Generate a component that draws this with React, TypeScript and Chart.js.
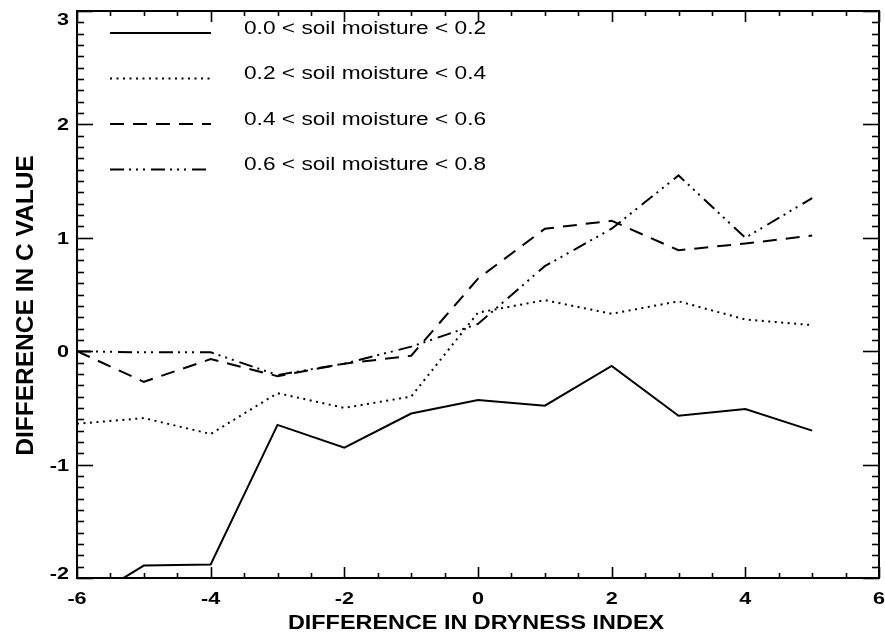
import React, { useEffect, useRef } from 'react';
import { Chart, registerables } from 'chart.js';

Chart.register(...registerables);

// ---- data ----
const xValues = [-6, -5, -4, -3, -2, -1, 0, 1, 2, 3, 4, 5];
const soil00to02 = [-2.25, -1.89, -1.88, -0.65, -0.85, -0.55, -0.43, -0.48, -0.13, -0.57, -0.51, -0.7];
const soil02to04 = [-0.64, -0.59, -0.73, -0.37, -0.5, -0.4, 0.34, 0.45, 0.33, 0.44, 0.28, 0.23];
const soil04to06 = [0.0, -0.27, -0.07, -0.22, -0.11, -0.04, 0.64, 1.08, 1.15, 0.89, 0.95, 1.02];
const soil06to08 = [0.0, -0.01, -0.01, -0.21, -0.11, 0.04, 0.24, 0.75, 1.08, 1.55, 1.0, 1.35];
const seriesLabels = [
  '0.0 < soil moisture < 0.2',
  '0.2 < soil moisture < 0.4',
  '0.4 < soil moisture < 0.6',
  '0.6 < soil moisture < 0.8',
];
const xTickLabels = [-6, -4, -2, 0, 2, 4, 6];
const yTickLabels = [-2, -1, 0, 1, 2, 3];
const xTitle = 'DIFFERENCE IN DRYNESS INDEX';
const yTitle = 'DIFFERENCE IN C VALUE';

const FONT = '"Liberation Sans", Arial, Helvetica, sans-serif';
const dashes: number[][] = [[], [2, 4.5], [14, 9], [14, 5, 2, 5, 2, 5, 2, 6]];

function stretchText(ctx: CanvasRenderingContext2D, text: string, x: number, y: number, sx: number, align: CanvasTextAlign) {
  ctx.save();
  ctx.translate(x, y);
  ctx.scale(sx, 1);
  ctx.textAlign = align;
  ctx.textBaseline = 'alphabetic';
  ctx.fillText(text, 0, 0);
  ctx.restore();
}

const framePlugin = {
  id: 'frameAndText',
  afterDatasetsDraw(chart: any) {
    const { ctx, chartArea: a, scales } = chart;
    const xs = scales.x;
    const ys = scales.y;
    ctx.save();
    ctx.strokeStyle = '#000';
    ctx.fillStyle = '#000';
    ctx.setLineDash([]);
    ctx.lineWidth = 2;
    ctx.strokeRect(a.left, a.top, a.right - a.left, a.bottom - a.top);

    const seg = (x1: number, y1: number, x2: number, y2: number) => {
      ctx.beginPath();
      ctx.moveTo(x1, y1);
      ctx.lineTo(x2, y2);
      ctx.stroke();
    };
    ctx.lineWidth = 1.6;
    // x ticks: major every 2, minor every 0.5
    const xMin = xTickLabels[0];
    const xMax = xTickLabels[xTickLabels.length - 1];
    const nx = Math.round((xMax - xMin) / 0.5);
    for (let i = 0; i <= nx; i++) {
      const v = xMin + i * 0.5;
      const px = Math.round(xs.getPixelForValue(v)) + 0.5;
      const len = i % 4 === 0 ? 11 : 5;
      seg(px, a.bottom, px, a.bottom - len);
      seg(px, a.top, px, a.top + len);
    }
    // y ticks: major every 1, minor every 0.1
    const yMin = yTickLabels[0];
    const yMax = yTickLabels[yTickLabels.length - 1];
    const ny = Math.round((yMax - yMin) / 0.1);
    for (let i = 0; i <= ny; i++) {
      const v = yMin + i * 0.1;
      const py = Math.round(ys.getPixelForValue(v)) + 0.5;
      const len = i % 10 === 0 ? 16 : 7;
      seg(a.left, py, a.left + len, py);
      seg(a.right, py, a.right - len, py);
    }

    // tick labels
    ctx.font = `bold 17px ${FONT}`;
    for (const v of xTickLabels) {
      const px = xs.getPixelForValue(v);
      stretchText(ctx, String(v), px, a.bottom + 25.5, 1.27, 'center');
    }
    for (const v of yTickLabels) {
      let py = ys.getPixelForValue(v);
      py = Math.min(Math.max(py, a.top + 7.5), a.bottom - 5);
      stretchText(ctx, String(v), a.left - 8, py + 6, 1.27, 'right');
    }

    // axis titles
    ctx.font = `bold 19.5px ${FONT}`;
    stretchText(ctx, xTitle, (a.left + a.right) / 2 - 2, a.bottom + 50.5, 1.2, 'center');
    ctx.save();
    ctx.font = `bold 24.5px ${FONT}`;
    ctx.translate(33, (a.top + a.bottom) / 2 + 11);
    ctx.rotate(-Math.PI / 2);
    ctx.textAlign = 'center';
    ctx.textBaseline = 'alphabetic';
    ctx.fillText(yTitle, 0, 0);
    ctx.restore();

    // legend
    chart.data.datasets.forEach((ds: any, i: number) => {
      const ly = a.top + 22 + i * 45.5;
      ctx.save();
      ctx.lineWidth = 2;
      ctx.lineCap = 'butt';
      ctx.setLineDash(ds.borderDash || []);
      seg(a.left + 33, ly, a.left + 134, ly);
      ctx.restore();
      ctx.font = `18px ${FONT}`;
      stretchText(ctx, ds.label, a.left + 167, ly + 0.5, 1.26, 'left');
    });
    ctx.restore();
  },
};

export default function App() {
  const canvasRef = useRef<HTMLCanvasElement | null>(null);

  useEffect(() => {
    if (!canvasRef.current) return;
    const series = [soil00to02, soil02to04, soil04to06, soil06to08];
    const datasets = series.map((vals, i) => ({
      label: seriesLabels[i],
      data: xValues.map((x, j) => ({ x, y: vals[j] })),
      borderColor: '#000',
      backgroundColor: '#000',
      borderWidth: 2,
      borderDash: dashes[i],
      pointRadius: 0,
      tension: 0,
      fill: false,
    }));
    const chart = new Chart(canvasRef.current, {
      type: 'line',
      data: { datasets },
      options: {
        responsive: false,
        animation: false,
        layout: { padding: { top: 11, right: 6, left: 0, bottom: 0 } },
        plugins: { legend: { display: false }, tooltip: { enabled: false } },
        scales: {
          x: {
            type: 'linear',
            min: -6,
            max: 6,
            ticks: { display: false, stepSize: 2 },
            grid: { display: false },
            border: { display: false },
            afterFit: (s: any) => { s.height = 64; },
          },
          y: {
            type: 'linear',
            min: -2,
            max: 3,
            ticks: { display: false, stepSize: 1 },
            grid: { display: false },
            border: { display: false },
            afterFit: (s: any) => { s.width = 77; },
          },
        },
      },
      plugins: [framePlugin],
    } as any);
    return () => chart.destroy();
  }, []);

  return (
    <div style={{ position: 'absolute', left: 0, top: 0, width: 885, height: 642, background: '#fff' }}>
      <canvas ref={canvasRef} width={885} height={642} />
    </div>
  );
}
